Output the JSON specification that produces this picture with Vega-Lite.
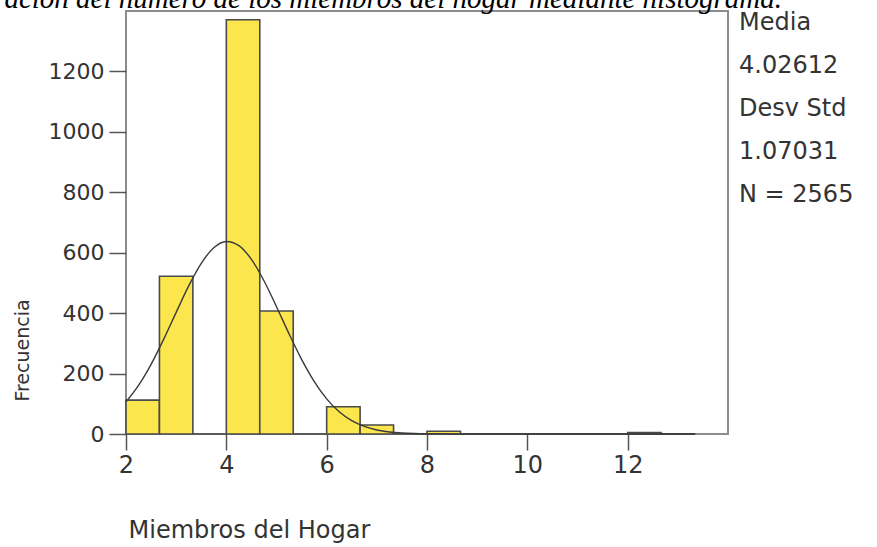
{
  "$schema": "https://vega.github.io/schema/vega-lite/v6.json",
  "width": 602,
  "height": 423,
  "autosize": {"type": "none"},
  "padding": {"left": 126, "top": 11, "right": 149, "bottom": 113},
  "background": "#ffffff",
  "config": {
    "view": {"stroke": "#8c8c8c", "strokeWidth": 2, "fill": "#fcfcfc"},
    "font": "DejaVu Sans",
    "axis": {"grid": false, "domain": false, "tickColor": "#555555", "tickWidth": 1.5, "labelColor": "#333333", "titleColor": "#333333", "labelFont": "DejaVu Sans", "titleFont": "DejaVu Sans", "titleFontWeight": "normal", "labelFlush": false}
  },
  "title": {
    "text": "ación del número de los miembros del hogar mediante histograma.",
    "font": "Liberation Serif", "fontStyle": "italic", "fontSize": 29, "fontWeight": "normal", "color": "#000000",
    "anchor": "end", "frame": "group", "dx": 54, "baseline": "alphabetic", "offset": -26
  },
  "datasets": {
    "bins": [
      {"bin_start": 2, "bin_end": 2.6667, "count": 112},
      {"bin_start": 2.6667, "bin_end": 3.3333, "count": 522},
      {"bin_start": 3.3333, "bin_end": 4, "count": 0},
      {"bin_start": 4, "bin_end": 4.6667, "count": 1371},
      {"bin_start": 4.6667, "bin_end": 5.3333, "count": 407},
      {"bin_start": 5.3333, "bin_end": 6, "count": 0},
      {"bin_start": 6, "bin_end": 6.6667, "count": 90},
      {"bin_start": 6.6667, "bin_end": 7.3333, "count": 30},
      {"bin_start": 7.3333, "bin_end": 8, "count": 0},
      {"bin_start": 8, "bin_end": 8.6667, "count": 9},
      {"bin_start": 8.6667, "bin_end": 9.3333, "count": 0},
      {"bin_start": 9.3333, "bin_end": 10, "count": 0},
      {"bin_start": 10, "bin_end": 10.6667, "count": 0},
      {"bin_start": 10.6667, "bin_end": 11.3333, "count": 1},
      {"bin_start": 11.3333, "bin_end": 12, "count": 0},
      {"bin_start": 12, "bin_end": 12.6667, "count": 5},
      {"bin_start": 12.6667, "bin_end": 13.3333, "count": 1}
    ],
    "curve": [
      {"x": 2.0, "y": 106.2}, {"x": 2.25, "y": 160.9}, {"x": 2.5, "y": 230.6}, {"x": 2.75, "y": 313.1},
      {"x": 3.0, "y": 402.5}, {"x": 3.25, "y": 490.1}, {"x": 3.5, "y": 564.8}, {"x": 3.75, "y": 616.5},
      {"x": 4.0, "y": 637.2}, {"x": 4.25, "y": 623.6}, {"x": 4.5, "y": 577.9}, {"x": 4.75, "y": 507.1},
      {"x": 5.0, "y": 421.3}, {"x": 5.25, "y": 331.5}, {"x": 5.5, "y": 247.0}, {"x": 5.75, "y": 174.2},
      {"x": 6.0, "y": 116.4}, {"x": 6.25, "y": 73.6}, {"x": 6.5, "y": 44.1}, {"x": 6.75, "y": 25.0},
      {"x": 7.0, "y": 13.4}, {"x": 7.25, "y": 6.8}, {"x": 7.5, "y": 3.3}, {"x": 7.75, "y": 1.5},
      {"x": 8.0, "y": 0.65}, {"x": 8.5, "y": 0.1}, {"x": 9.0, "y": 0.01}, {"x": 10.0, "y": 0},
      {"x": 11.0, "y": 0}, {"x": 12.0, "y": 0}, {"x": 13.3333, "y": 0}
    ],
    "stats": [
      {"stat": "Media"}, {"stat": "4.02612"}, {"stat": "Desv Std"}, {"stat": "1.07031"}, {"stat": "N = 2565"}
    ]
  },
  "layer": [
    {
      "data": {"name": "bins"},
      "mark": {"type": "bar", "fill": "#fbe64e", "stroke": "#4a4a4a", "strokeWidth": 1.6},
      "encoding": {
        "x": {
          "field": "bin_start", "type": "quantitative",
          "scale": {"domain": [2, 14], "nice": false, "zero": false},
          "axis": {
            "values": [2, 4, 6, 8, 10, 12], "tickSize": 16, "labelFontSize": 24, "labelPadding": 3,
            "title": "Miembros del Hogar", "titleFontSize": 24, "titleAlign": "left", "titleBaseline": "alphabetic",
            "titleX": 2, "titleY": 103
          }
        },
        "x2": {"field": "bin_end"},
        "y": {
          "field": "count", "type": "quantitative",
          "scale": {"domain": [0, 1400], "nice": false},
          "axis": {
            "values": [0, 200, 400, 600, 800, 1000, 1200], "format": "d", "tickSize": 17, "labelFontSize": 22, "labelPadding": 5,
            "title": "Frecuencia", "titleFontSize": 19, "titleAngle": -90, "titleAlign": "center", "titleBaseline": "middle",
            "titleX": -104, "titleY": 339
          }
        },
        "y2": {"datum": 0}
      }
    },
    {
      "data": {"name": "curve"},
      "mark": {"type": "line", "color": "#3a3a3a", "strokeWidth": 1.4, "interpolate": "monotone"},
      "encoding": {
        "x": {"field": "x", "type": "quantitative"},
        "y": {"field": "y", "type": "quantitative"}
      }
    },
    {
      "data": {"name": "stats"},
      "mark": {"type": "point", "opacity": 0},
      "encoding": {
        "color": {
          "field": "stat", "type": "nominal",
          "scale": {"domain": ["Media", "4.02612", "Desv Std", "1.07031", "N = 2565"], "range": ["#333333", "#333333", "#333333", "#333333", "#333333"]},
          "legend": {
            "orient": "right", "offset": -13, "padding": 0, "title": null,
            "symbolSize": 0, "symbolOpacity": 0, "symbolStrokeWidth": 0,
            "labelFontSize": 24, "labelColor": "#333333", "labelFont": "DejaVu Sans", "labelOffset": 0,
            "labelLimit": 300, "rowPadding": 19
          }
        }
      }
    }
  ]
}
